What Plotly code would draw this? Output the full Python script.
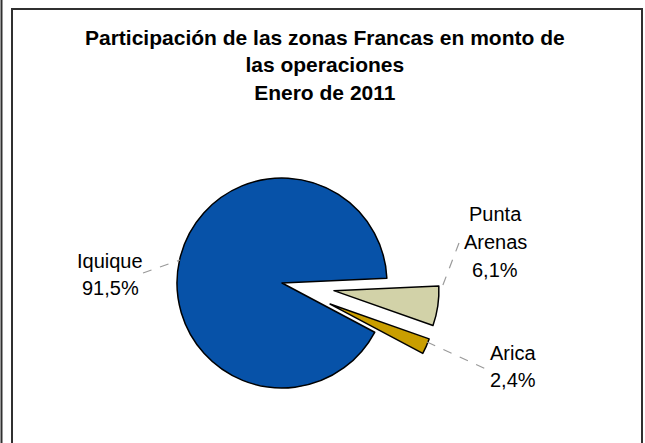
import plotly.graph_objects as go

# ---- data ----
zonas = ["Iquique", "Punta Arenas", "Arica"]
participacion = [91.5, 6.1, 2.4]
etiquetas = [["Iquique", "91,5%"], ["Punta", "Arenas", "6,1%"], ["Arica", "2,4%"]]
titulo = "Participación de las zonas Francas en monto de<br>las operaciones<br>Enero de 2011"

# ---- style ----
colores = ["#0752a8", "#d2d2a8", "#c99e00"]
W, H = 645, 443


def px(x):
    return x / W


def py(y):
    return 1 - y / H


fig = go.Figure()
fig.add_trace(go.Pie(
    labels=zonas,
    values=participacion,
    sort=False,
    direction="clockwise",
    rotation=118,
    pull=[0, 0.5, 0.5],
    textinfo="none",
    hoverinfo="label+percent",
    marker=dict(colors=colores, line=dict(color="#000000", width=1.5)),
    domain=dict(x=[0.1930, 0.6814], y=[0.0057, 0.7167]),
    showlegend=False,
))

# labels: (x center, first line center y, line step)
label_pos = [(110, 261, 27), (495, 214, 28), (513, 353, 27)]
annotations = []
for lines, (x, y, step) in zip(etiquetas, label_pos):
    for i, line in enumerate(lines):
        annotations.append(dict(
            text=line, x=px(x), y=py(y + i * step), xref="paper", yref="paper",
            xanchor="center", yanchor="middle", showarrow=False,
            font=dict(family="Liberation Sans, Arial, sans-serif", size=20, color="#000000"),
        ))

shapes = []
# leader lines (dashed)
for (x0, y0, x1, y1) in [(143, 273, 180, 260), (459, 243, 441, 290), (427, 342, 488, 370)]:
    shapes.append(dict(type="line", xref="paper", yref="paper",
                       x0=px(x0), y0=py(y0), x1=px(x1), y1=py(y1),
                       line=dict(color="#9a9a9a", width=1.2, dash="dash")))
# frame
shapes.append(dict(type="path", xref="paper", yref="paper",
                   path=f"M {px(12)} {py(450)} L {px(12)} {py(9)} L {px(642)} {py(9)} L {px(642)} {py(450)}",
                   line=dict(color="#303030", width=2)))
shapes.append(dict(type="line", xref="paper", yref="paper",
                   x0=px(1.5), y0=py(-5), x1=px(1.5), y1=py(450),
                   line=dict(color="#303030", width=2)))

annotations.append(dict(
    text="<b>" + titulo + "</b>", x=px(325), y=py(24), xref="paper", yref="paper",
    xanchor="center", yanchor="top", showarrow=False,
    font=dict(family="Liberation Sans, Arial, sans-serif", size=21, color="#000000"),
))

fig.update_layout(
    width=W, height=H,
    margin=dict(l=0, r=0, t=0, b=0),
    paper_bgcolor="#ffffff",
    plot_bgcolor="#ffffff",
    annotations=annotations,
    shapes=shapes,
)

fig.write_html("out.html", config={"displayModeBar": False},
               post_script="document.body.style.margin='0';")
